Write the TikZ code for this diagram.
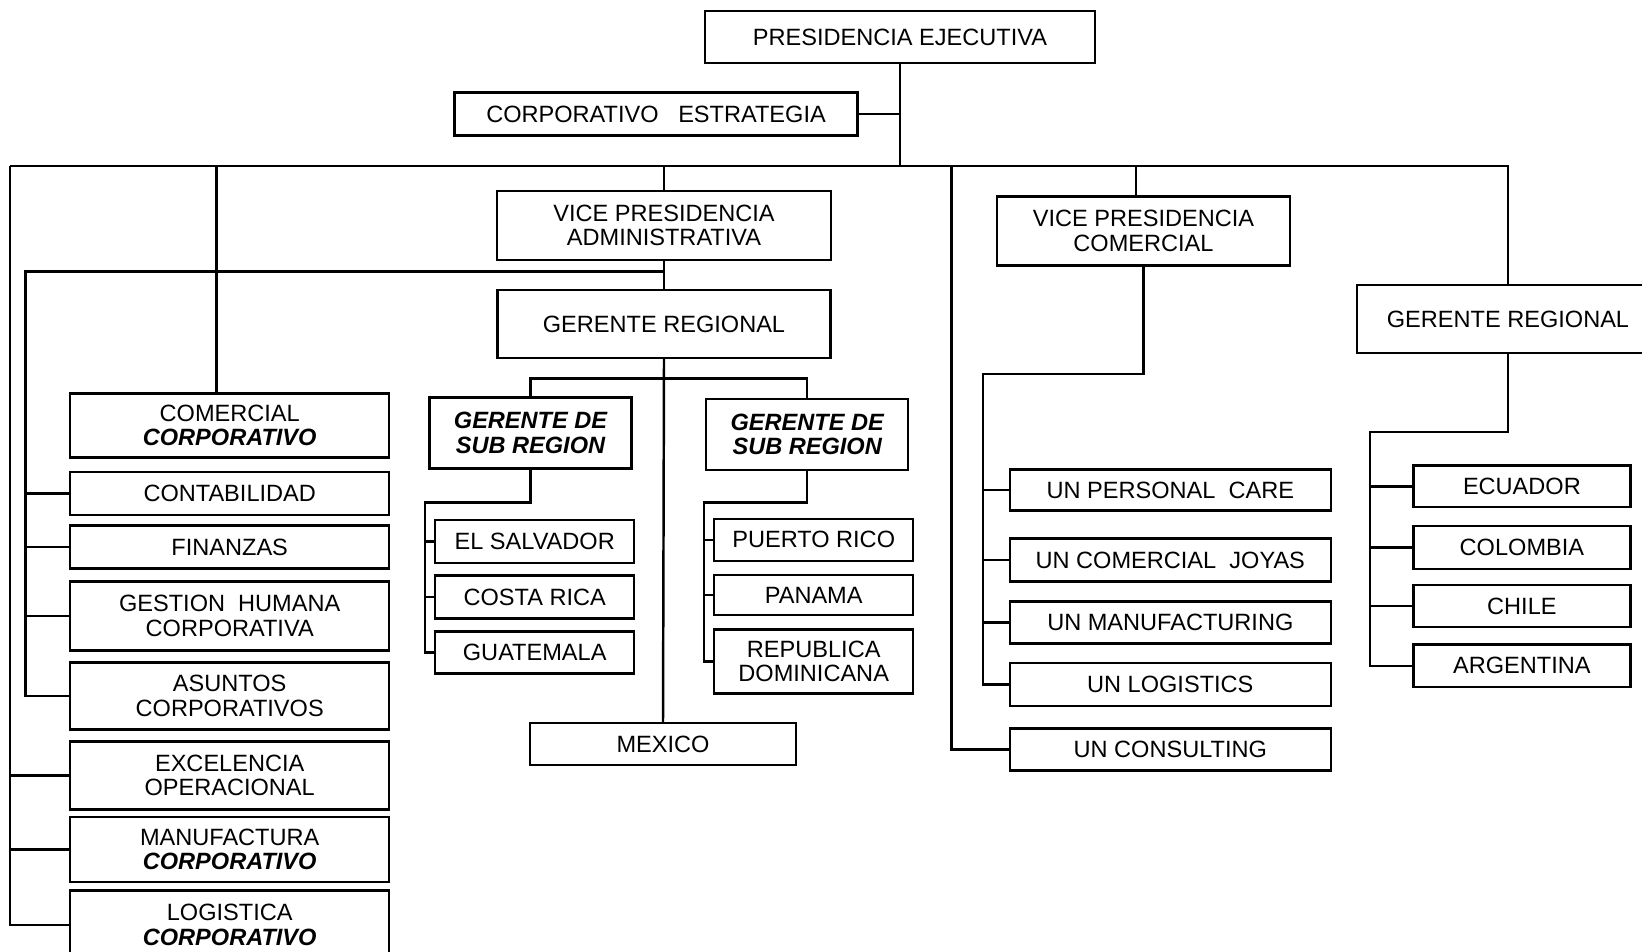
\documentclass[tikz,border=0pt]{standalone}
\usepackage{fontspec}
\setmainfont{Liberation Sans}
\newcommand{\bfit}[1]{\textbf{\textit{#1}}}
\tikzset{
  orgbox/.style={draw,line width=0.7pt,inner sep=0pt,align=center,font=\fontsize{6.7}{7}\selectfont},
  subbox/.style={orgbox,font=\fontsize{6.7}{7}\selectfont\bfseries\itshape},
  wh/.style 2 args={minimum width=#1*0.01cm,minimum height=#2*0.01cm}
}

\begin{document}
\begin{tikzpicture}[x=0.01cm,y=-0.01cm,line width=0.7pt]%
\useasboundingbox (0,0) rectangle (1642,952);%
\fill[white] (0,0) rectangle (1642,952);%
\clip (0,0) rectangle (1642,952);%
\node[orgbox,wh={390}{52}] (pres) at (900,37) {PRESIDENCIA EJECUTIVA};%
\node[orgbox,wh={403}{43}] (estr) at (656,114) {CORPORATIVO\ \ \ ESTRATEGIA};%
\node[orgbox,wh={334}{69}] (vpadm) at (664,225.4) {VICE PRESIDENCIA\\ADMINISTRATIVA};%
\node[orgbox,wh={293}{69}] (vpcom) at (1143.5,230.8) {VICE PRESIDENCIA\\COMERCIAL};%
\node[orgbox,wh={333}{68}] (gradm) at (664,324) {GERENTE REGIONAL};%
\node[orgbox,wh={302}{68}] (grsur) at (1508,319.2) {GERENTE REGIONAL};%
\node[orgbox,wh={319}{64}] (comcorp) at (229.7,425.4) {COMERCIAL\\\bfit{CORPORATIVO}};%
\node[orgbox,wh={319}{43}] (conta) at (229.7,493.4) {CONTABILIDAD};%
\node[orgbox,wh={319}{43}] (finan) at (229.7,547.2) {FINANZAS};%
\node[orgbox,wh={319}{69}] (gestion) at (229.7,615.8) {GESTION\ \ HUMANA\\CORPORATIVA};%
\node[orgbox,wh={319}{67}] (asuntos) at (229.7,696) {ASUNTOS\\CORPORATIVOS};%
\node[orgbox,wh={319}{68}] (excel) at (229.7,775.5) {EXCELENCIA\\OPERACIONAL};%
\node[orgbox,wh={319}{65}] (manuf) at (229.7,849.4) {MANUFACTURA\\\bfit{CORPORATIVO}};%
\node[orgbox,wh={319}{69}] (logis) at (229.7,925) {LOGISTICA\\\bfit{CORPORATIVO}};%
\node[subbox,wh={202}{71}] (subn) at (530.5,433) {GERENTE DE\\SUB REGION};%
\node[orgbox,wh={199}{43}] (salv) at (534.7,541.3) {EL SALVADOR};%
\node[orgbox,wh={199}{43}] (costa) at (534.7,597) {COSTA RICA};%
\node[orgbox,wh={199}{42}] (guate) at (534.7,652.5) {GUATEMALA};%
\node[subbox,wh={202}{71}] (subs) at (807.2,434.5) {GERENTE DE\\SUB REGION};%
\node[orgbox,wh={199}{42}] (prico) at (813.7,539.8) {PUERTO RICO};%
\node[orgbox,wh={199}{40}] (panama) at (813.7,595) {PANAMA};%
\node[orgbox,wh={199}{64}] (repdom) at (813.7,661.3) {REPUBLICA\\DOMINICANA};%
\node[orgbox,wh={266}{42}] (mexico) at (663,744.2) {MEXICO};%
\node[orgbox,wh={321}{41}] (pcare) at (1170.3,490.2) {UN PERSONAL\ \ CARE};%
\node[orgbox,wh={321}{43}] (joyas) at (1170.3,560) {UN COMERCIAL\ \ JOYAS};%
\node[orgbox,wh={321}{42}] (unmanuf) at (1170.3,622.3) {UN MANUFACTURING};%
\node[orgbox,wh={321}{43}] (unlogis) at (1170.3,684.6) {UN LOGISTICS};%
\node[orgbox,wh={321}{42}] (consul) at (1170.3,749.4) {UN CONSULTING};%
\node[orgbox,wh={217}{41.5}] (ecuador) at (1521.9,486.3) {ECUADOR};%
\node[orgbox,wh={217}{43}] (colombia) at (1521.9,547.4) {COLOMBIA};%
\node[orgbox,wh={217}{41.5}] (chile) at (1521.9,606) {CHILE};%
\node[orgbox,wh={217}{42.4}] (argent) at (1521.9,665.8) {ARGENTINA};%
\coordinate (bus) at (900,166);%
\coordinate (busw) at (10,166);%
\coordinate (tocom) at (216.5,166);%
\coordinate (tocons) at (951.7,166);%
\coordinate (tovpc) at (1136,166);%
\draw (pres.south) -- (bus);%
\draw (estr.east) -- (estr.east -| pres.south);%
\draw (busw) -- (grsur.north |- bus) -- (grsur.north);%
\draw (busw) |- (logis.west);%
\draw (busw |- excel.west) -- (excel.west);%
\draw (busw |- manuf.west) -- (manuf.west);%
\draw (tocom) -- (tocom |- comcorp.north);%
\draw (vpadm.north |- bus) -- (vpadm.north);%
\draw (tocons) |- (consul.west);%
\draw (tovpc) -- (tovpc |- vpcom.north);%
\coordinate (admbus) at (664,271.7);%
\coordinate (admw) at (25.4,271.7);%
\draw (vpadm.south) -- (gradm.north);%
\draw (admbus) -- (admw) |- (asuntos.west);%
\draw (admw |- conta.west) -- (conta.west);%
\draw (admw |- finan.west) -- (finan.west);%
\draw (admw |- gestion.west) -- (gestion.west);%
\coordinate (subbus) at (664,378.3);%
\draw (gradm.south) -- (mexico.north);%
\draw (subn.north) |- (subbus) -| (subs.north);%
\coordinate (subnw) at (425,502.7);%
\draw (subn.south) |- (subnw) |- (guate.west);%
\draw (subnw |- salv.west) -- (salv.west);%
\draw (subnw |- costa.west) -- (costa.west);%
\coordinate (subsw) at (704,502.3);%
\draw (subs.south) |- (subsw) |- (repdom.west);%
\draw (subsw |- prico.west) -- (prico.west);%
\draw (subsw |- panama.west) -- (panama.west);%
\coordinate (vpcw) at (982.8,373.8);%
\draw (vpcom.south) |- (vpcw) |- (unlogis.west);%
\draw (vpcw |- pcare.west) -- (pcare.west);%
\draw (vpcw |- joyas.west) -- (joyas.west);%
\draw (vpcw |- unmanuf.west) -- (unmanuf.west);%
\coordinate (grsw) at (1370,431.9);%
\draw (grsur.south) |- (grsw) |- (argent.west);%
\draw (grsw |- ecuador.west) -- (ecuador.west);%
\draw (grsw |- colombia.west) -- (colombia.west);%
\draw (grsw |- chile.west) -- (chile.west);%
\end{tikzpicture}
\end{document}
